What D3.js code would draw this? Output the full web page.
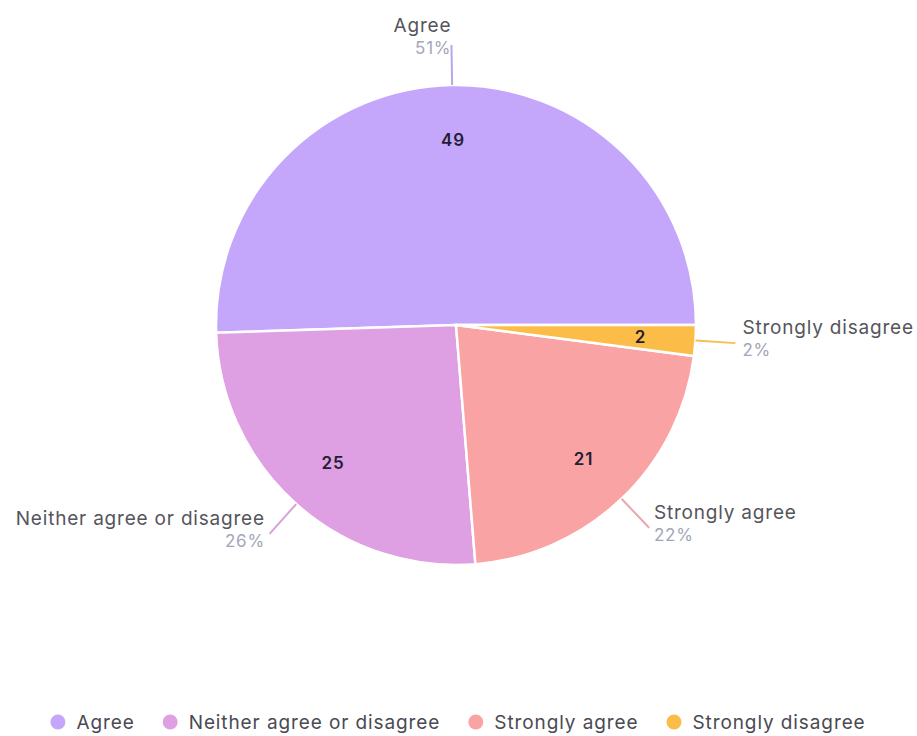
<!DOCTYPE html>
<html>
<head>
<meta charset="utf-8">
<script src="https://cdn.jsdelivr.net/npm/d3@7"></script>
<style>
  body { margin: 0; background: #fff; }
  svg { font-family: Inter, "Noto Sans", sans-serif; }
</style>
</head>
<body>
<div id="chart"></div>
<script>
'use strict';

// data
var categories = ["Agree", "Neither agree or disagree", "Strongly agree", "Strongly disagree"];
var counts = [49, 25, 21, 2];
var percents = ["51%", "26%", "22%", "2%"];
var colors = ["#c4a7fb", "#de9fe3", "#f9a3a4", "#fbbd48"];
var lineColors = ["#b9a6e6", "#d7a2dc", "#e9a7ae", "#f4c04f"];

var width = 917, height = 736,
    cx = 456, cy = 325,
    radius = 240;

var svg = d3.select("#chart").append("svg")
    .attr("width", width)
    .attr("height", height);

var g = svg.append("g").attr("transform", "translate(" + cx + "," + cy + ")");

// slices run counter-clockwise from 3 o'clock
var pie = d3.pie()
    .sort(null)
    .startAngle(Math.PI / 2)
    .endAngle(Math.PI / 2 - 2 * Math.PI)
    .value(function(d) { return d; });

var arcs = pie(counts);

var arc = d3.arc().innerRadius(0).outerRadius(radius);
var labelArc = d3.arc().innerRadius(radius * 0.54).outerRadius(radius);

g.selectAll("path.slice")
    .data(arcs)
    .enter().append("path")
    .attr("class", "slice")
    .attr("d", arc)
    .style("fill", function(d, i) { return colors[i]; })
    .style("stroke", "#fff")
    .style("stroke-width", 2.5);

// counts inside the slices
g.selectAll("text.count")
    .data(arcs)
    .enter().append("text")
    .attr("class", "count")
    .attr("transform", function(d) { return "translate(" + labelArc.centroid(d) + ")"; })
    .attr("dy", "0.35em")
    .style("text-anchor", "middle")
    .style("font-size", "17px")
    .style("font-weight", "600")
    .style("letter-spacing", "0.8px")
    .style("fill", "#241d33")
    .text(function(d) { return d.value; });

// leader lines and outside labels
var lineLen = 40;
arcs.forEach(function(d, i) {
    var a = (d.startAngle + d.endAngle) / 2,
        s = Math.sin(a), c = Math.cos(a),
        x0 = s * radius, y0 = -c * radius,
        x1 = s * (radius + lineLen), y1 = -c * (radius + lineLen);

    g.append("line")
        .attr("x1", x0).attr("y1", y0)
        .attr("x2", x1).attr("y2", y1)
        .style("stroke", lineColors[i])
        .style("stroke-width", 2);

    var anchor = s < 0 ? "end" : "start",
        tx = x1 + 7 * s,
        nameY = y1 - 9 - 4 * Math.max(c, 0);

    g.append("text")
        .attr("x", tx).attr("y", nameY)
        .style("text-anchor", anchor)
        .style("font-size", "19px")
        .style("letter-spacing", "0.8px")
        .style("fill", "#55555c")
        .text(categories[i]);

    g.append("text")
        .attr("x", tx).attr("y", nameY + 22)
        .style("text-anchor", anchor)
        .style("font-size", "17px")
        .style("letter-spacing", "0.8px")
        .style("fill", "#a3a6b8")
        .text(percents[i]);
});

// legend
var legend = svg.append("g").attr("transform", "translate(0,729)");
var items = legend.selectAll("g.item")
    .data(categories)
    .enter().append("g")
    .attr("class", "item");

items.append("circle")
    .attr("r", 7.5)
    .attr("cx", 7.5)
    .attr("cy", -7)
    .style("fill", function(d, i) { return colors[i]; });

items.append("text")
    .attr("x", 26)
    .style("font-size", "19px")
    .style("letter-spacing", "0.9px")
    .style("fill", "#4a4a52")
    .text(function(d) { return d; });

var gap = 28, offsets = [], total = 0;
items.each(function() {
    var w = this.getBBox().width;
    offsets.push(total);
    total += w + gap;
});
total -= gap;
var startX = 458 - total / 2;
items.attr("transform", function(d, i) { return "translate(" + (startX + offsets[i]) + ",0)"; });
</script>
</body>
</html>
